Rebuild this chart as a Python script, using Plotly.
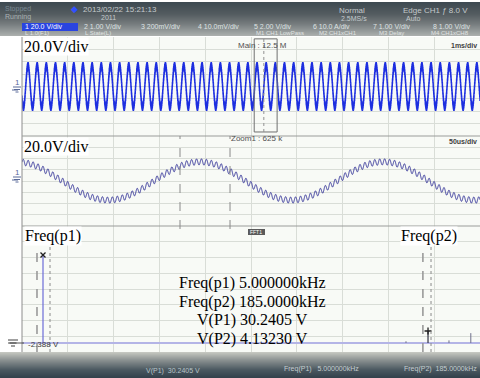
import numpy as np
import plotly.graph_objects as go

W, H = 480, 378

# ---- values shown on the scope screen ----
freq_p1_khz = 5.0
freq_p2_khz = 185.0
v_p1 = 30.2405
v_p2 = 4.13230

# ---- waveform parameters ----
main_amp_v = 34.0        # crest of the 5 kHz component
ripple_amp_v = 5.5       # 185 kHz ripple riding on it
main_crest_ms = 0.131    # first crest in the main (1 ms/div) view
zoom_crest_us = 194.0    # crest in the zoom (50 us/div) view

# ---- spectrum lines (kHz, V) ----
spec_freqs = [5.0, 174.7, 185.0, 194.8, 205.0]
spec_amps = [30.24, 0.6, 4.13, 0.9, 3.4]

# ---- cursor positions ----
zoom_box_ms = [5.07, 5.57]
zoom_center_ms = 5.28
zoom_cursors_us = [172.5, 227.1]
fft_cursors_p1 = [2.19, 8.27]
fft_cursors_p2 = [182.6, 186.4]

meas_lines = ["Freq(p1) 5.000000kHz", "Freq(p2) 185.0000kHz",
              "V(P1) 30.2405 V", "V(P2) 4.13230 V"]


def px(x):
    return x / W


def py(y):
    return 1 - y / H


# waveforms
t1 = np.linspace(0, 10, 30001)                       # ms
y1 = (main_amp_v * np.cos(2 * np.pi * freq_p1_khz * (t1 - main_crest_ms))
      + ripple_amp_v * np.sin(2 * np.pi * freq_p2_khz * t1))
t2 = np.linspace(0, 500, 4001)                       # us
y2 = (main_amp_v * np.cos(2 * np.pi * freq_p1_khz * (t2 - zoom_crest_us) / 1000)
      + ripple_amp_v * np.sin(2 * np.pi * freq_p2_khz * t2 / 1000))

fig = go.Figure()
fig.add_trace(go.Scatter(x=t1, y=y1, mode="lines", xaxis="x", yaxis="y",
                         line=dict(color="#1c2ee0", width=1.3, simplify=False), hoverinfo="skip"))
fig.add_trace(go.Scatter(x=t2, y=y2, mode="lines", xaxis="x2", yaxis="y2",
                         line=dict(color="#34349a", width=1, simplify=False), hoverinfo="skip"))

# spectrum
f_lo, f_hi = -4.82, 209.3
fig.add_trace(go.Scatter(x=[f_lo, f_hi], y=[0, 0], mode="lines", xaxis="x3", yaxis="y3",
                         line=dict(color="#b4b4e6", width=2), hoverinfo="skip"))
minor_x, minor_y = [], []
for f, a in zip(spec_freqs, spec_amps):
    if f in (freq_p1_khz, freq_p2_khz):
        continue
    minor_x += [f, f, None]
    minor_y += [0, a, None]
fig.add_trace(go.Scatter(x=minor_x, y=minor_y, mode="lines", xaxis="x3", yaxis="y3",
                         line=dict(color="#70708c", width=1), hoverinfo="skip"))
fig.add_trace(go.Scatter(x=[spec_freqs[0], spec_freqs[0]], y=[0, spec_amps[0]], mode="lines",
                         xaxis="x3", yaxis="y3", line=dict(color="#6c6cd8", width=1.2),
                         hoverinfo="skip"))
fig.add_trace(go.Scatter(x=[spec_freqs[2], spec_freqs[2]], y=[0, spec_amps[2]], mode="lines",
                         xaxis="x3", yaxis="y3", line=dict(color="#303040", width=1.2),
                         hoverinfo="skip"))
fig.add_trace(go.Scatter(x=[spec_freqs[0]], y=[spec_amps[0]], mode="markers",
                         xaxis="x3", yaxis="y3", hoverinfo="skip",
                         marker=dict(symbol="x-thin", size=5, line=dict(color="#202020", width=1.3))))
fig.add_trace(go.Scatter(x=[spec_freqs[2]], y=[spec_amps[2]], mode="markers",
                         xaxis="x3", yaxis="y3", hoverinfo="skip",
                         marker=dict(symbol="cross-thin", size=5, line=dict(color="#202020", width=1.3))))

grid = "#d9ddd7"
ax_common = dict(showticklabels=False, zeroline=False, showline=False, showgrid=True,
                 gridcolor=grid, gridwidth=1, ticks="", fixedrange=True)
xdom = [px(22), 1]
fig.update_layout(
    width=W, height=H, margin=dict(l=0, r=0, t=0, b=0),
    paper_bgcolor="white", plot_bgcolor="#f8faf6", showlegend=False,
    xaxis=dict(domain=xdom, range=[0, 10], tick0=0, dtick=1, anchor="y", **ax_common),
    yaxis=dict(domain=[py(136), py(37)], range=[-80, 80], tick0=-80, dtick=20, anchor="x", **ax_common),
    xaxis2=dict(domain=xdom, range=[0, 500], tick0=0, dtick=50, anchor="y2", **ax_common),
    yaxis2=dict(domain=[py(226), py(136)], range=[-80, 80], tick0=-80, dtick=20, anchor="x2", **ax_common),
    xaxis3=dict(domain=xdom, range=[f_lo, f_hi], tick0=f_lo, dtick=(f_hi - f_lo) / 10, anchor="y3", **ax_common),
    yaxis3=dict(domain=[py(352), py(226)], range=[-3.09, 40.2], tick0=-3.09, dtick=5.41, anchor="x3", **ax_common),
)

shapes = []


def grad(y0, y1, stops):
    n = int(round(y1 - y0))
    for i in range(n):
        t = i / max(n - 1, 1)
        for j in range(len(stops) - 1):
            if stops[j][0] <= t <= stops[j + 1][0]:
                a, b = stops[j], stops[j + 1]
                break
        u = (t - a[0]) / (b[0] - a[0]) if b[0] > a[0] else 0
        c = [int(a[1][k] + (b[1][k] - a[1][k]) * u) for k in range(3)]
        shapes.append(dict(type="rect", xref="paper", yref="paper", x0=0, x1=1,
                           y0=py(y0 + i + 1), y1=py(y0 + i), line=dict(width=0),
                           fillcolor="rgb(%d,%d,%d)" % tuple(c), layer="above"))


# header and footer bars
grad(2, 36, [(0, (62, 74, 82)), (0.35, (84, 92, 96)), (0.65, (118, 124, 126)), (1, (170, 174, 172))])
grad(352, 378, [(0, (196, 198, 192)), (0.3, (140, 146, 146)), (0.7, (74, 88, 96)), (1, (52, 66, 76))])

# borders
shapes.append(dict(type="line", xref="paper", yref="paper", x0=px(22), x1=px(22), y0=py(352), y1=py(37),
                   line=dict(color="#8c8c8c", width=1)))
for yy in (136, 226):
    shapes.append(dict(type="line", xref="paper", yref="paper", x0=px(22), x1=1, y0=py(yy), y1=py(yy),
                       line=dict(color="#9a9c9a", width=1)))

# zoom box in main panel
shapes.append(dict(type="rect", xref="x", yref="y", x0=zoom_box_ms[0], x1=zoom_box_ms[1], y0=-73.5, y1=77,
                   line=dict(color="#707070", width=1)))
shapes.append(dict(type="line", xref="x", yref="y", x0=zoom_center_ms, x1=zoom_center_ms, y0=-73.5, y1=77,
                   line=dict(color="#909090", width=1, dash="dot")))
# zoom cursors
for c in zoom_cursors_us:
    shapes.append(dict(type="line", xref="x2", yref="paper", x0=c, x1=c, y0=py(229), y1=py(136),
                       line=dict(color="#8a8a8a", width=1, dash="dash")))
# fft cursors
for (a, b) in (fft_cursors_p1, fft_cursors_p2):
    shapes.append(dict(type="line", xref="x3", yref="paper", x0=a, x1=a, y0=py(352), y1=py(240),
                       line=dict(color="#9a9a9a", width=1.6, dash="dash")))
    shapes.append(dict(type="line", xref="x3", yref="paper", x0=b, x1=b, y0=py(352), y1=py(240),
                       line=dict(color="#8a8a8a", width=1, dash="dot")))


# ground symbols in left margin
def ground(xc, yc, color):
    shapes.append(dict(type="line", xref="paper", yref="paper", x0=px(xc - 5), x1=px(xc + 1),
                       y0=py(yc), y1=py(yc), line=dict(color=color, width=1)))
    for k, w in enumerate((4, 3, 1.5)):
        shapes.append(dict(type="line", xref="paper", yref="paper", x0=px(xc - w), x1=px(xc + w),
                           y0=py(yc - 3 + 2.5 * k), y1=py(yc - 3 + 2.5 * k),
                           line=dict(color=color, width=1)))


ground(17, 90, "#5a6a9a")
ground(17, 180, "#5a6a9a")
shapes.append(dict(type="line", xref="paper", yref="paper", x0=px(8), x1=px(24), y0=py(343), y1=py(343),
                   line=dict(color="#505050", width=1)))
for k, w in enumerate((5, 3.5, 2)):
    shapes.append(dict(type="line", xref="paper", yref="paper", x0=px(13 - w), x1=px(13 + w),
                       y0=py(340 + 3 * k), y1=py(340 + 3 * k), line=dict(color="#404040", width=1)))

# header widgets
shapes.append(dict(type="rect", xref="paper", yref="paper", x0=px(22), x1=px(78), y0=py(31), y1=py(23),
                   fillcolor="#2a44e0", line=dict(width=0), layer="above"))
shapes.append(dict(type="rect", xref="paper", yref="paper", x0=px(248), x1=px(265), y0=py(235), y1=py(229),
                   fillcolor="#5a5a5a", line=dict(width=0)))
fig.update_layout(shapes=shapes)

ann = []
serif = "Liberation Serif, Times New Roman, serif"
sans = "Liberation Sans, Arial, sans-serif"


def txt(x, y, s, size=16, color="black", family=serif, xanchor="left", bg=None):
    d = dict(xref="paper", yref="paper", x=px(x), y=py(y), text=s, showarrow=False,
             xanchor=xanchor, yanchor="middle", font=dict(family=family, size=size, color=color),
             borderpad=0)
    if bg:
        d["bgcolor"] = bg
    ann.append(d)


txt(23, 47, "20.0V/div", bg="white")
txt(23, 147, "20.0V/div", bg="white")
txt(24, 236, "Freq(p1)", bg="white")
txt(400, 236, "Freq(p2)", bg="white")
for s, yy in zip(meas_lines, (283, 301.5, 320, 338.5)):
    txt(252, yy, s, xanchor="center")

txt(237, 45, "Main : 12.5 M", size=8, color="#505050", family=sans)
txt(478, 45, "<b>1ms/div</b>", size=7, color="#404040", family=sans, xanchor="right")
txt(230, 139, "Zoom1 : 625 k", size=8, color="#505050", family=sans)
txt(478, 141, "<b>50us/div</b>", size=7, color="#404040", family=sans, xanchor="right")
txt(249, 232, "FFT1", size=5, color="white", family=sans)
txt(27, 344, "-2.388 V", size=8, color="#404040", family=sans)
txt(14, 82, "1", size=8, color="#5a6a9a", family=sans)
txt(14, 172, "1", size=8, color="#5a6a9a", family=sans)

hc = "#c4cacc"
txt(70, 9, "\u25c6", size=9, color="#3050ff", family=sans)
txt(82, 9, "2013/02/22 15:21:13", size=8, color=hc, family=sans)
txt(4, 9, "Stopped", size=7, color="#7a8a94", family=sans)
txt(4, 17, "Running", size=7, color="#aab2b4", family=sans)
txt(100, 17, "2011", size=7, color=hc, family=sans)
txt(338, 10, "Normal", size=8, color=hc, family=sans)
txt(340, 18, "2.5MS/s", size=7, color=hc, family=sans)
txt(402, 10, "Edge CH1 \u0192 8.0 V", size=8, color=hc, family=sans)
txt(405, 18, "Auto", size=7, color=hc, family=sans)
txt(24, 27, "1 20.0 V/div", size=7, color="white", family=sans)
for xx, s in ((83, "2 1.00 V/div"), (140, "3 200mV/div"), (197, "4 10.0mV/div"), (253, "5 2.00 V/div"),
              (312, "6 10.0 A/div"), (372, "7 1.00 V/div"), (432, "8 1.00 V/div")):
    txt(xx, 27, s, size=7, color="#dfe3e3", family=sans)
for xx, s in ((24, "L 1.0(F1)"), (84, "L State(L)"), (255, "M1 CH1 LowPass"), (318, "M2 CH1xCH1"),
              (378, "M3 Delay"), (430, "M4 CH1xCH8")):
    txt(xx, 33, s, size=6, color="#e0e4e2", family=sans)

txt(145, 371, "V(P1)  30.2405 V", size=7, color="#b8c4c8", family=sans)
txt(283, 369, "Freq(P1)   5.000000kHz", size=7, color="#c4ccd0", family=sans)
txt(478, 369, "Freq(P2)  185.0000kHz", size=7, color="#c4ccd0", family=sans, xanchor="right")

fig.update_layout(annotations=ann)
fig.write_html("out.html")
